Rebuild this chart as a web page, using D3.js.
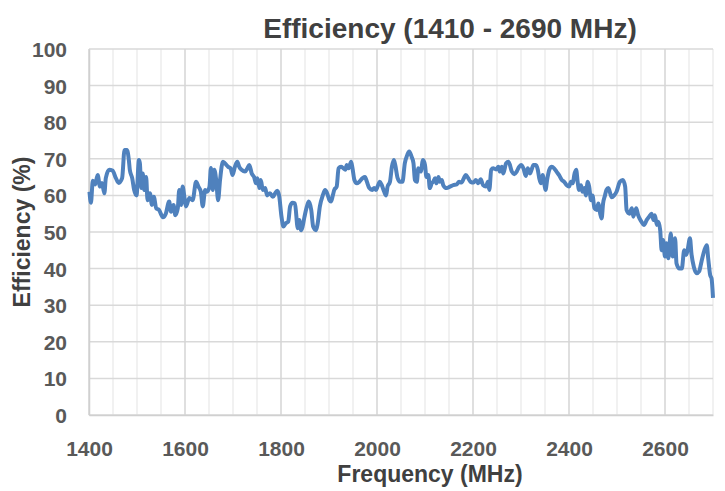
<!DOCTYPE html>
<html>
<head>
<meta charset="utf-8">
<script src="https://cdn.jsdelivr.net/npm/d3@7"></script>
<style>
  body { margin: 0; background: #fff; }
  text { font-family: "Liberation Sans", Arial, sans-serif; font-weight: bold; }
</style>
</head>
<body>
<div id="chart-area"></div>
<script>

var freq = [1401,1404,1408,1413,1418,1423,1427,1432,1435,1442,1449,1456,1462,1469,1474,1479,1483,1485,1490,1494,
            1499,1504,1506,1509,1512,1515,1519,1522,1527,1531,1535,1540,1546,1554,1560,1567,1571,1576,1580,1585,
            1588,1592,1595,1599,1602,1609,1616,1623,1628,1633,1637,1642,1646,1651,1654,1658,1661,1665,1669,1673,
            1679,1683,1690,1695,1699,1704,1709,1713,1718,1725,1730,1734,1739,1744,1748,1751,1755,1758,1762,1767,
            1771,1777,1783,1788,1792,1796,1801,1805,1810,1815,1819,1824,1829,1835,1838,1842,1845,1849,1854,1858,
            1863,1867,1873,1876,1881,1887,1892,1896,1901,1904,1908,1911,1916,1920,1925,1930,1934,1937,1941,1946,
            1949,1953,1958,1963,1970,1975,1979,1984,1990,1994,1998,2001,2006,2010,2015,2019,2022,2027,2031,2035,
            2038,2043,2048,2053,2058,2063,2067,2072,2076,2079,2083,2086,2091,2096,2100,2103,2107,2110,2114,2117,
            2121,2124,2128,2131,2135,2138,2145,2152,2159,2166,2171,2176,2181,2185,2190,2195,2201,2206,2211,2216,
            2221,2227,2231,2234,2238,2242,2248,2253,2256,2260,2263,2269,2274,2281,2286,2291,2296,2300,2305,2310,
            2314,2319,2322,2326,2331,2335,2338,2342,2345,2349,2351,2355,2359,2364,2369,2374,2379,2385,2390,2395,
            2400,2404,2408,2411,2415,2418,2421,2425,2428,2432,2435,2439,2442,2446,2449,2453,2458,2461,2465,2468,
            2471,2475,2478,2482,2489,2494,2499,2506,2512,2517,2520,2526,2531,2534,2540,2544,2551,2556,2562,2567,
            2572,2576,2579,2583,2586,2590,2593,2596,2600,2603,2607,2612,2616,2621,2624,2630,2635,2640,2644,2647,
            2652,2655,2660,2666,2671,2676,2682,2687,2690,2694,2697,2700];

var eff = [61,58,64,63,65.6,62.4,63.4,60.6,64.7,67,66.8,64.7,63.4,64.7,72.4,72.4,69.7,67,64.7,61.5,
           60,69.7,68.8,62,66,61.5,65,58.7,60.6,57.4,59.6,56.5,56,54,55,58.3,55.5,57.4,54.6,56.5,
           61.5,57.4,62.4,59.3,57,59.3,58.7,63.7,62.4,61,57,61.5,61,62.4,67.5,61.5,67,64.2,58.7,64.2,
           69.2,68.8,67.8,67.4,65.6,67.8,69.2,67.8,67,66.5,67.4,68.3,66,65,63.3,64.7,62,64.2,61.5,62,
           60,60.6,59.6,60.6,61.3,60,54.2,51.5,52.4,52.8,57,58,57.8,51,53.3,50.5,51.5,54.2,57,58.3,
           56,51.5,50.5,52,57,60,61.5,60.6,58.7,58.3,60,61.5,62.4,67.4,67.8,67.4,67,68.3,67.4,69.2,
           67.4,64.2,63.3,63.7,64.7,65,63.7,62,61.5,62,61.5,62.4,63.7,62.8,61,60,62.4,63.7,67.8,69.7,
           68.3,64.7,63.7,63.7,68.8,71,72,70.6,68.8,64.2,63.7,67.4,66.5,69.7,68.3,65,65.6,62,63.3,63.7,
           64.7,63.3,65,63.7,64.2,62.8,62,62.4,62.8,63,63.7,63.5,64.7,65.6,64.7,63.7,63.5,64.2,63.3,64.4,
           62.8,62.4,63.7,61.5,67,67.4,67.1,67.8,66.5,67.8,66,68.8,69.2,66.5,65.8,66.5,67.8,68.3,67.4,65.3,
           67.4,66,67,68.3,68.3,67,64.7,63.3,65.6,62.8,61.5,64.7,67,67.8,67.4,66.5,65.6,64.2,63.7,62.8,
           62.4,63.7,63.3,65.6,67,63.7,61.5,62.8,61,62,60,63.7,62.4,58.7,60,56.5,56,57.8,55,53.7,
           57.8,60,61.5,62,59.5,60,61,63.7,64.2,62.4,56,55,56.5,54.2,56.5,54.6,52.8,51.9,53.3,54.2,
           55,53.3,54.6,51.9,52.8,50.5,45,47.8,43.3,46.9,42.8,49.6,43.3,48.3,41.4,40,40,45,43.7,45,
           48.3,44.2,40.5,38.7,39.2,41.9,45,46.4,42.8,38.3,37.3,32];

var xTicks = [1400,1600,1800,2000,2200,2400,2600];
var yTicks = [0,10,20,30,40,50,60,70,80,90,100];

var total_width = 725;
var total_height = 491;
var margin = {top:49, right:12, bottom:76, left:89};
var width = total_width - margin.left - margin.right;
var height = total_height - margin.top - margin.bottom;

var svg = d3.select('#chart-area').append('svg')
            .attr("width", total_width)
            .attr("height", total_height);

var chart = svg.append('g')
               .attr("transform", "translate(" + margin.left + "," + margin.top + ")");

var x = d3.scaleLinear().domain([1400, 2700]).range([0, width]);
var y = d3.scaleLinear().domain([0, 100]).range([height, 0]);

// minor vertical grid every 50 MHz
chart.append('g').selectAll('line')
     .data(d3.range(1450, 2701, 50).filter(function(d){ return d % 200 != 0; }))
     .enter().append('line')
     .attr("x1", (d) => x(d)).attr("x2", (d) => x(d))
     .attr("y1", 0).attr("y2", height)
     .attr("stroke", "#ececec").attr("stroke-width", 1.5);

// horizontal grid
chart.append('g').selectAll('line')
     .data(yTicks)
     .enter().append('line')
     .attr("x1", 0).attr("x2", width)
     .attr("y1", (d) => y(d)).attr("y2", (d) => y(d))
     .attr("stroke", "#d9d9d9").attr("stroke-width", 1.5);

// major vertical grid every 200 MHz
chart.append('g').selectAll('line')
     .data(xTicks)
     .enter().append('line')
     .attr("x1", (d) => x(d)).attr("x2", (d) => x(d))
     .attr("y1", 0).attr("y2", height)
     .attr("stroke", "#d4d4d4").attr("stroke-width", 1.5);

var xAxis = d3.axisBottom(x).tickValues(xTicks).tickFormat(d3.format("d")).tickSize(0).tickPadding(26);
var yAxis = d3.axisLeft(y).tickValues(yTicks).tickSize(0).tickPadding(22);

var gx = chart.append('g').attr("transform", "translate(0," + height + ")").call(xAxis);
var gy = chart.append('g').call(yAxis);

[gx, gy].forEach(function(g){
    g.select(".domain").attr("stroke", "#d0d0d0").attr("stroke-width", 1.5);
    g.selectAll("text")
     .attr("font-family", "Liberation Sans, Arial, sans-serif")
     .attr("font-weight", "bold")
     .attr("font-size", "21px")
     .attr("fill", "#595959");
});
gy.selectAll("text").attr("dy", "0.36em");

var points = freq.map(function(f, i){ return {f: f, v: eff[i]}; });

var lineFunction = d3.line()
                     .x(function(d) { return x(d.f); })
                     .y(function(d) { return y(d.v); })
                     .curve(d3.curveMonotoneX);

chart.append("path")
     .datum(points)
     .attr("d", lineFunction)
     .attr("fill", "none")
     .attr("stroke", "#4f81bd")
     .attr("stroke-width", 4)
     .attr("stroke-linejoin", "round");

svg.append("text")
   .attr("x", 450).attr("y", 38)
   .attr("text-anchor", "middle")
   .attr("font-size", "28px")
   .attr("fill", "#404040")
   .text("Efficiency (1410 - 2690 MHz)");

svg.append("text")
   .attr("x", 430).attr("y", 482)
   .attr("text-anchor", "middle")
   .attr("font-size", "23px")
   .attr("fill", "#404040")
   .text("Frequency (MHz)");

svg.append("text")
   .attr("transform", "translate(30,232) rotate(-90)")
   .attr("text-anchor", "middle")
   .attr("font-size", "23px")
   .attr("fill", "#404040")
   .text("Efficiency (%)");

</script>
</body>
</html>
